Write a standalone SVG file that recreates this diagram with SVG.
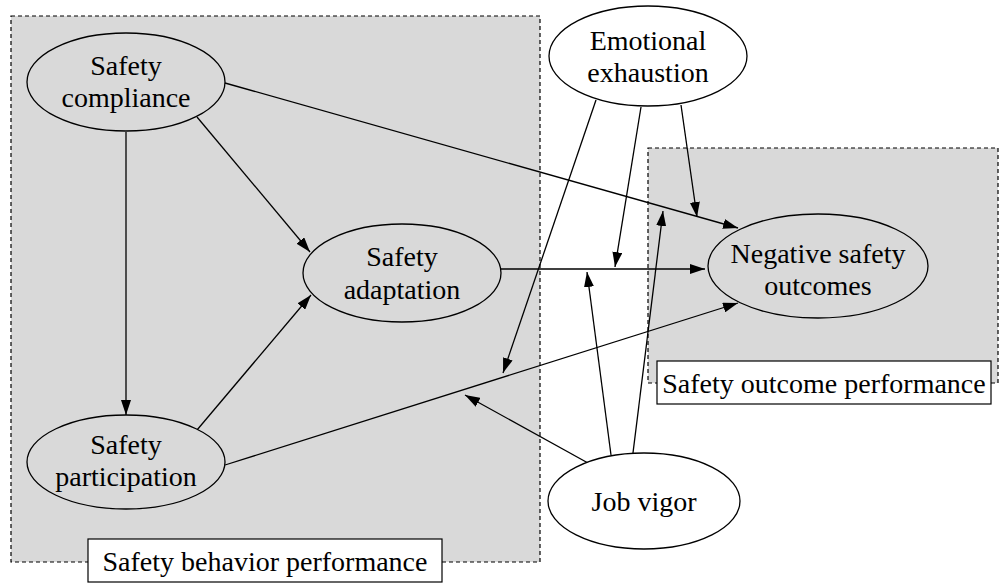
<svg xmlns="http://www.w3.org/2000/svg" width="1001" height="585" viewBox="0 0 1001 585">
<style>
.grp{fill:#d9d9d9;stroke:#000;stroke-width:1.2;stroke-dasharray:4 3}
.lbl{fill:#fff;stroke:#000;stroke-width:1.2}
.node{stroke:#000;stroke-width:1.3}
.in{fill:#d9d9d9}
.out{fill:#fff}
text{font-family:"Liberation Serif","Times New Roman",serif;font-size:28px;fill:#000;text-anchor:middle}
.conn line{stroke:#000;stroke-width:1.3;marker-end:url(#ah)}
</style>
<defs>
<marker id="ah" markerUnits="userSpaceOnUse" markerWidth="15" markerHeight="10" refX="15" refY="5" orient="auto" viewBox="0 0 15 10">
<path d="M0,0 L15,5 L0,10 z" fill="#000"/>
</marker>
</defs>
<rect width="1001" height="585" fill="#fff"/>
<g id="group-behavior">
<rect class="grp" x="11" y="16" width="529" height="546"/>
</g>
<g id="group-outcome">
<rect class="grp" x="648" y="148" width="350" height="235"/>
</g>
<g id="label-behavior">
<rect class="lbl" x="88" y="539" width="354" height="43"/>
<text x="265" y="571">Safety behavior performance</text>
</g>
<g id="label-outcome">
<rect class="lbl" x="657" y="361" width="334" height="43"/>
<text x="824" y="393">Safety outcome performance</text>
</g>
<g id="connectors" class="conn">
<line x1="126" y1="132" x2="126" y2="415"/>
<line x1="197" y1="117" x2="310" y2="252"/>
<line x1="197" y1="430" x2="311" y2="295"/>
<line x1="225" y1="83" x2="738" y2="228"/>
<line x1="501" y1="269" x2="705" y2="269"/>
<line x1="225" y1="465" x2="738" y2="303"/>
<line x1="596" y1="100" x2="503" y2="373"/>
<line x1="641" y1="107" x2="615" y2="267"/>
<line x1="681" y1="105" x2="697" y2="217"/>
<line x1="588" y1="463" x2="465" y2="395"/>
<line x1="611" y1="455" x2="587" y2="272"/>
<line x1="633" y1="453" x2="663" y2="211"/>
</g>
<g id="safety-compliance">
<ellipse class="node in" cx="126" cy="82" rx="99" ry="49"/>
<text x="126" y="75">Safety</text>
<text x="126" y="107">compliance</text>
</g>
<g id="safety-adaptation">
<ellipse class="node in" cx="402" cy="273" rx="99" ry="49"/>
<text x="402" y="266">Safety</text>
<text x="402" y="299">adaptation</text>
</g>
<g id="safety-participation">
<ellipse class="node in" cx="126" cy="462" rx="99" ry="47"/>
<text x="126" y="454">Safety</text>
<text x="126" y="486">participation</text>
</g>
<g id="emotional-exhaustion">
<ellipse class="node out" cx="648" cy="56" rx="99" ry="50"/>
<text x="648" y="50">Emotional</text>
<text x="648" y="82">exhaustion</text>
</g>
<g id="negative-safety-outcomes">
<ellipse class="node in" cx="818" cy="266" rx="110" ry="52"/>
<text x="818" y="263">Negative safety</text>
<text x="818" y="295">outcomes</text>
</g>
<g id="job-vigor">
<ellipse class="node out" cx="644" cy="501" rx="96" ry="48"/>
<text x="644" y="511">Job vigor</text>
</g>
</svg>
